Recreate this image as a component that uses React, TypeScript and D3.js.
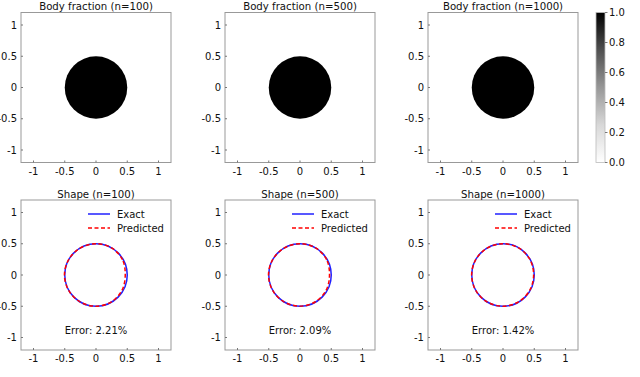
import React, { useRef, useEffect } from "react";
import * as d3 from "d3";

// sample sizes and errors for each column
const sampleSizes = [100, 500, 1000];
const errors = ["2.21%", "2.09%", "1.42%"];

const ticks = [-1, -0.5, 0, 0.5, 1];
const tickLabels = ["-1", "-0.5", "0", "0.5", "1"];
const cbTicks = [0, 0.2, 0.4, 0.6, 0.8, 1.0];

// exact shape: circle of radius 0.5 centred at origin
const exactRadius = 0.5;
const bodyFraction = 1.0;

// predicted boundary radius read every 30 degrees (from +x, counter-clockwise)
const predAngles = [0, 30, 60, 90, 120, 150, 180, 210, 240, 270, 300, 330];
const predRadii100 = [0.468, 0.49, 0.5, 0.5, 0.5, 0.502, 0.505, 0.502, 0.5, 0.5, 0.495, 0.482];
const predRadii500 = [0.472, 0.492, 0.5, 0.5, 0.5, 0.502, 0.504, 0.502, 0.5, 0.498, 0.494, 0.484];
const predRadii1000 = [0.49, 0.497, 0.5, 0.5, 0.5, 0.501, 0.502, 0.501, 0.5, 0.499, 0.497, 0.493];
const predicted = [predRadii100, predRadii500, predRadii1000];

const App = () => {
  const svgRef = useRef(null);

  useEffect(() => {
    const svg = d3.select(svgRef.current);
    svg.selectAll("*").remove();

    const font = "DejaVu Sans, sans-serif";
    const ink = "#111";
    const lefts = [21, 225, 428];
    const tops = [12.5, 200];
    const size = 150;
    const frame = "#999";

    const defs = svg.append("defs");
    const grad = defs
      .append("linearGradient")
      .attr("id", "cbgrad")
      .attr("x1", 0)
      .attr("y1", 1)
      .attr("x2", 0)
      .attr("y2", 0);
    d3.range(0, 1.01, 0.25).forEach((t) => {
      grad
        .append("stop")
        .attr("offset", t)
        .attr("stop-color", d3.interpolateGreys(t));
    });

    const drawAxes = (g, x, y, top, left) => {
      g.append("rect")
        .attr("x", left)
        .attr("y", top)
        .attr("width", size)
        .attr("height", size)
        .attr("fill", "none")
        .attr("stroke", frame)
        .attr("stroke-width", 1);
      ticks.forEach((t, i) => {
        g.append("line")
          .attr("x1", x(t))
          .attr("x2", x(t))
          .attr("y1", top + size)
          .attr("y2", top + size - 2)
          .attr("stroke", "#777");
        g.append("text")
          .attr("x", x(t))
          .attr("y", top + size + 12)
          .attr("text-anchor", "middle")
          .attr("font-size", 10)
          .attr("font-family", font)
          .attr("fill", ink)
          .text(tickLabels[i]);
        g.append("line")
          .attr("x1", left)
          .attr("x2", left + 2)
          .attr("y1", y(t))
          .attr("y2", y(t))
          .attr("stroke", "#777");
        g.append("text")
          .attr("x", left - 4)
          .attr("y", y(t))
          .attr("dy", "0.35em")
          .attr("text-anchor", "end")
          .attr("font-size", 10)
          .attr("font-family", font)
          .attr("fill", ink)
          .text(tickLabels[i]);
      });
    };

    sampleSizes.forEach((n, col) => {
      const left = lefts[col];

      // top row: body fraction
      {
        const top = tops[0];
        const x = d3.scaleLinear().domain([-1.2, 1.2]).range([left, left + size]);
        const y = d3.scaleLinear().domain([-1.2, 1.2]).range([top + size, top]);
        const g = svg.append("g");
        g.append("circle")
          .attr("cx", x(0))
          .attr("cy", y(0))
          .attr("r", x(exactRadius) - x(0))
          .attr("fill", d3.interpolateGreys(bodyFraction));
        drawAxes(g, x, y, top, left);
        g.append("text")
          .attr("x", left + size / 2)
          .attr("y", top - 2.5)
          .attr("text-anchor", "middle")
          .attr("font-size", 10.2)
          .attr("font-family", font)
          .attr("fill", ink)
          .text(`Body fraction (n=${n})`);
      }

      // bottom row: shape
      {
        const top = tops[1];
        const x = d3.scaleLinear().domain([-1.2, 1.2]).range([left, left + size]);
        const y = d3.scaleLinear().domain([-1.2, 1.2]).range([top + size, top]);
        const g = svg.append("g");
        g.append("rect")
          .attr("x", left)
          .attr("y", top)
          .attr("width", size)
          .attr("height", size)
          .attr("fill", "white");

        g.append("circle")
          .attr("cx", x(0))
          .attr("cy", y(0))
          .attr("r", x(exactRadius) - x(0))
          .attr("fill", "none")
          .attr("stroke", "#2020ff")
          .attr("stroke-width", 1.5);

        const pts = predAngles.map((a, i) => [a, predicted[col][i]]);
        const line = d3
          .line()
          .x((d) => x(d[1] * Math.cos((d[0] * Math.PI) / 180)))
          .y((d) => y(d[1] * Math.sin((d[0] * Math.PI) / 180)))
          .curve(d3.curveCardinalClosed);
        g.append("path")
          .attr("d", line(pts))
          .attr("fill", "none")
          .attr("stroke", "#ff0000")
          .attr("stroke-width", 1.5)
          .attr("stroke-dasharray", "4,2.5");

        drawAxes(g, x, y, top, left);

        // legend
        const cx = left + size / 2;
        g.append("line")
          .attr("x1", cx - 8)
          .attr("x2", cx + 14)
          .attr("y1", 214)
          .attr("y2", 214)
          .attr("stroke", "#2020ff")
          .attr("stroke-width", 1.5);
        g.append("text")
          .attr("x", cx + 21)
          .attr("y", 214)
          .attr("dy", "0.35em")
          .attr("font-size", 10)
          .attr("font-family", font)
          .attr("fill", ink)
          .text("Exact");
        g.append("line")
          .attr("x1", cx - 8)
          .attr("x2", cx + 14)
          .attr("y1", 228)
          .attr("y2", 228)
          .attr("stroke", "#ff0000")
          .attr("stroke-width", 1.5)
          .attr("stroke-dasharray", "4,2.5");
        g.append("text")
          .attr("x", cx + 21)
          .attr("y", 228)
          .attr("dy", "0.35em")
          .attr("font-size", 10)
          .attr("font-family", font)
          .attr("fill", ink)
          .text("Predicted");

        g.append("text")
          .attr("x", x(0))
          .attr("y", y(-0.88))
          .attr("dy", "0.35em")
          .attr("text-anchor", "middle")
          .attr("font-size", 10)
          .attr("font-family", font)
          .attr("fill", ink)
          .text(`Error: ${errors[col]}`);

        g.append("text")
          .attr("x", left + size / 2)
          .attr("y", top - 2.5)
          .attr("text-anchor", "middle")
          .attr("font-size", 10.2)
          .attr("font-family", font)
          .attr("fill", ink)
          .text(`Shape (n=${n})`);
      }
    });

    // colorbar
    const cbX = 596;
    const cbW = 9;
    const cy = d3.scaleLinear().domain([0, 1]).range([tops[0] + size, tops[0]]);
    svg
      .append("rect")
      .attr("x", cbX)
      .attr("y", tops[0])
      .attr("width", cbW)
      .attr("height", size)
      .attr("fill", "url(#cbgrad)")
      .attr("stroke", "#bbb")
      .attr("stroke-width", 0.8);
    cbTicks.forEach((t) => {
      svg
        .append("line")
        .attr("x1", cbX + cbW)
        .attr("x2", cbX + cbW + 2.5)
        .attr("y1", cy(t))
        .attr("y2", cy(t))
        .attr("stroke", "#777");
      svg
        .append("text")
        .attr("x", cbX + cbW + 4)
        .attr("y", cy(t))
        .attr("dy", "0.35em")
        .attr("font-size", 10)
        .attr("font-family", font)
        .attr("fill", ink)
        .text(t.toFixed(1));
    });
  }, []);

  return (
    <svg
      ref={svgRef}
      width={640}
      height={377}
      style={{ position: "absolute", left: 0, top: 0, background: "white" }}
    ></svg>
  );
};

export default App;
